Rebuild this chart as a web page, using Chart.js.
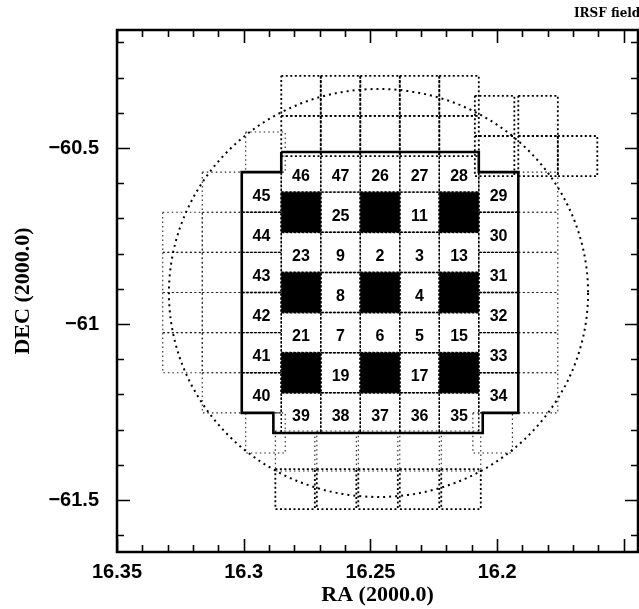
<!DOCTYPE html>
<html>
<head>
<meta charset="utf-8">
<script src="https://cdn.jsdelivr.net/npm/chart.js@4.4.0/dist/chart.umd.min.js"></script>
<style>
  html, body { margin: 0; padding: 0; background: #fff; }
  #wrap { width: 639px; height: 609px; }
</style>
</head>
<body>
<div id="wrap"><canvas id="irsf"></canvas></div>
<script>
// mosaic centre and size of one IRSF field (RA in hours, Dec in degrees)
const RA0 = 16.2462, DEC0 = -60.9105;
const FIELD_RA = 0.01559, FIELD_DEC = 0.1140;

// numbered fields: number, column, row (columns grow west, rows grow south)
const fieldNo  = [46, 47, 26, 27, 28, 25, 11, 23, 9, 2, 3, 13, 8, 4, 21, 7, 6, 5, 15, 19, 17, 39, 38, 37, 36, 35,
                  45, 44, 43, 42, 41, 40, 29, 30, 31, 32, 33, 34];
const fieldCol = [-2, -1, 0, 1, 2, -1, 1, -2, -1, 0, 1, 2, -1, 1, -2, -1, 0, 1, 2, -1, 1, -2, -1, 0, 1, 2,
                  -3, -3, -3, -3, -3, -3, 3, 3, 3, 3, 3, 3];
const fieldRow = [-3, -3, -3, -3, -3, -2, -2, -1, -1, -1, -1, -1, 0, 0, 1, 1, 1, 1, 1, 2, 2, 3, 3, 3, 3, 3,
                  -2.5, -1.5, -0.5, 0.5, 1.5, 2.5, -2.5, -1.5, -0.5, 0.5, 1.5, 2.5];

// filled fields
const blackCol = [-2, 0, 2, -2, 0, 2, -2, 0, 2];
const blackRow = [-2, -2, -2, 0, 0, 0, 2, 2, 2];

// outer fields, coarse dots
const outerCol = [-2, -1, 0, 1, 2, -2, -1, 0, 1, 2, 2.9, 2.9, 4, 4, 5, -2.15, -1.1, -0.05, 1, 2.05];
const outerRow = [-4.9, -4.9, -4.9, -4.9, -4.9, -3.9, -3.9, -3.9, -3.9, -3.9, -4.4, -3.4, -4.4, -3.4, -3.4,
                  4.9, 4.9, 4.9, 4.9, 4.9];

// outer fields, fine dots
const faintCol = [4, 4, 4, 4, 4, 4, -4, -4, -4, -4, -4, -4, -5, -5, -5, -5, -2.9, -2.9, 2.85,
                  -2.15, -1.1, -0.05, 1, 2.05];
const faintRow = [-2.5, -1.5, -0.5, 0.5, 1.5, 2.5, -2.5, -1.5, -0.5, 0.5, 1.5, 2.5, -1.5, -0.5, 0.5, 1.5,
                  -3.5, 3.5, 3.5, 3.95, 3.95, 3.95, 3.95, 3.95];

// border of the main survey area, corner by corner
const edgeCol = [-2.5, 2.5, 2.5, 3.5, 3.5, 2.6, 2.6, -2.7, -2.7, -3.5, -3.5, -2.5, -2.5];
const edgeRow = [-3.5, -3.5, -3, -3, 3, 3, 3.5, 3.5, 3, 3, -3, -3, -3.5];

// dotted circle: centre and radii
const circleRa = 16.2468, circleDec = -60.9119;
const circleRRa = 0.0827, circleRDec = 0.5795;

// labelled RA / Dec ticks
const raLabels = [16.35, 16.3, 16.25, 16.2];
const decLabels = [-60.5, -61, -61.5];

const toRa = c => RA0 - c * FIELD_RA;
const toDec = r => DEC0 - r * FIELD_DEC;

function box(c, r) {
  const x0 = toRa(c - 0.5), x1 = toRa(c + 0.5);
  const y0 = toDec(r - 0.5), y1 = toDec(r + 0.5);
  return [{x: x0, y: y0}, {x: x1, y: y0}, {x: x1, y: y1}, {x: x0, y: y1}, {x: x0, y: y0}];
}

const datasets = [];

datasets.push({
  data: edgeCol.map((c, i) => ({x: toRa(c), y: toDec(edgeRow[i])})),
  borderColor: '#000', borderWidth: 2.6, borderJoinStyle: 'miter', order: 0
});

blackCol.forEach((c, i) => datasets.push({
  data: box(c, blackRow[i]), fill: 'shape', backgroundColor: '#000',
  borderColor: '#000', borderWidth: 2, borderDash: [2, 2], order: 1
}));

fieldCol.forEach((c, i) => datasets.push({
  data: box(c, fieldRow[i]), borderColor: '#000', borderWidth: 1.4, borderDash: [2, 2], order: 2
}));

outerCol.forEach((c, i) => datasets.push({
  data: box(c, outerRow[i]), borderColor: '#000', borderWidth: 1.8, borderDash: [2, 2.5], order: 2
}));

faintCol.forEach((c, i) => datasets.push({
  data: box(c, faintRow[i]), borderColor: '#222', borderWidth: 1.1, borderDash: [1.5, 3], order: 2
}));

const isMajor = (v, step) => Math.abs(v / step - Math.round(v / step)) < 1e-6;
const hasLabel = (v, list) => list.some(l => Math.abs(l - v) < 1e-6);

// frame with inward ticks, like the old plotting packages
const frame = {
  id: 'frame',
  afterDraw(chart) {
    const {ctx, chartArea: a, scales: {x, y}} = chart;
    ctx.save();
    ctx.strokeStyle = '#000';
    ctx.lineWidth = 2.5;
    ctx.strokeRect(a.left, a.top, a.right - a.left, a.bottom - a.top);
    ctx.lineWidth = 1.6;
    ctx.beginPath();
    x.ticks.forEach(t => {
      const px = Math.round(x.getPixelForValue(t.value)) + 0.5;
      const len = isMajor(t.value, 0.05) ? 13 : 7;
      ctx.moveTo(px, a.bottom); ctx.lineTo(px, a.bottom - len);
      ctx.moveTo(px, a.top); ctx.lineTo(px, a.top + len);
    });
    y.ticks.forEach(t => {
      const py = Math.round(y.getPixelForValue(t.value)) + 0.5;
      const len = isMajor(t.value, 0.5) ? 13 : 7;
      ctx.moveTo(a.left, py); ctx.lineTo(a.left + len, py);
      ctx.moveTo(a.right, py); ctx.lineTo(a.right - len, py);
    });
    ctx.stroke();

    ctx.fillStyle = '#000';
    ctx.font = 'bold 12px "DejaVu Serif"';
    ctx.textBaseline = 'alphabetic';
    ctx.fillText('IRSF fields', 574, 17);
    ctx.restore();
  }
};

// circle and field numbers
const marks = {
  id: 'marks',
  afterDatasetsDraw(chart) {
    const {ctx, chartArea: a, scales: {x, y}} = chart;
    ctx.save();
    ctx.beginPath();
    ctx.rect(a.left, a.top, a.right - a.left, a.bottom - a.top);
    ctx.clip();

    const cx = x.getPixelForValue(circleRa), cy = y.getPixelForValue(circleDec);
    const rx = Math.abs(x.getPixelForValue(circleRa + circleRRa) - cx);
    const ry = Math.abs(y.getPixelForValue(circleDec + circleRDec) - cy);
    ctx.strokeStyle = '#000';
    ctx.lineWidth = 2;
    ctx.setLineDash([2, 4]);
    ctx.beginPath();
    ctx.ellipse(cx, cy, rx, ry, 0, 0, Math.PI * 2);
    ctx.stroke();

    ctx.fillStyle = '#000';
    ctx.font = 'bold 16px "Liberation Sans", Arial, sans-serif';
    ctx.textAlign = 'center';
    ctx.textBaseline = 'middle';
    fieldNo.forEach((n, i) => {
      const px = x.getPixelForValue(toRa(fieldCol[i]));
      const py = y.getPixelForValue(toDec(fieldRow[i]));
      ctx.fillText(String(n), px, py + 4);
    });
    ctx.restore();
  }
};

const tickFont = {family: '"Liberation Sans", Arial, sans-serif', size: 20, weight: 'bold'};
const titleFont = {family: '"Liberation Serif", "Times New Roman", serif', size: 22, weight: 'bold'};

new Chart(document.getElementById('irsf'), {
  type: 'line',
  data: {datasets},
  options: {
    responsive: true,
    maintainAspectRatio: false,
    animation: false,
    events: [],
    layout: {padding: {top: 30, right: 1, left: 0, bottom: 0}},
    elements: {point: {radius: 0}, line: {tension: 0, borderCapStyle: 'butt'}},
    plugins: {legend: {display: false}, tooltip: {enabled: false}},
    scales: {
      x: {
        type: 'linear',
        reverse: true,
        min: 16.1444,
        max: 16.35,
        grid: {display: false},
        border: {display: false},
        afterFit: s => { s.height = 57; },
        ticks: {
          stepSize: 0.01,
          includeBounds: false,
          autoSkip: false,
          maxRotation: 0,
          padding: 0,
          color: '#000',
          font: tickFont,
          callback: v => hasLabel(v, raLabels) ? String(+v.toFixed(2)) : ''
        },
        title: {display: true, text: 'RA (2000.0)', color: '#000', font: titleFont, padding: {top: 0, bottom: 0}}
      },
      y: {
        type: 'linear',
        min: -61.6477,
        max: -60.1648,
        grid: {display: false},
        border: {display: false},
        afterFit: s => { s.width = 117; },
        ticks: {
          stepSize: 0.1,
          includeBounds: false,
          autoSkip: false,
          padding: 10,
          color: '#000',
          font: tickFont,
          callback: v => hasLabel(v, decLabels) ? '\u2212' + String(Math.abs(+v.toFixed(1))) : ''
        },
        title: {display: true, text: 'DEC (2000.0)', color: '#000', font: titleFont, padding: {top: 10, bottom: 0}}
      }
    }
  },
  plugins: [marks, frame]
});
</script>
</body>
</html>
